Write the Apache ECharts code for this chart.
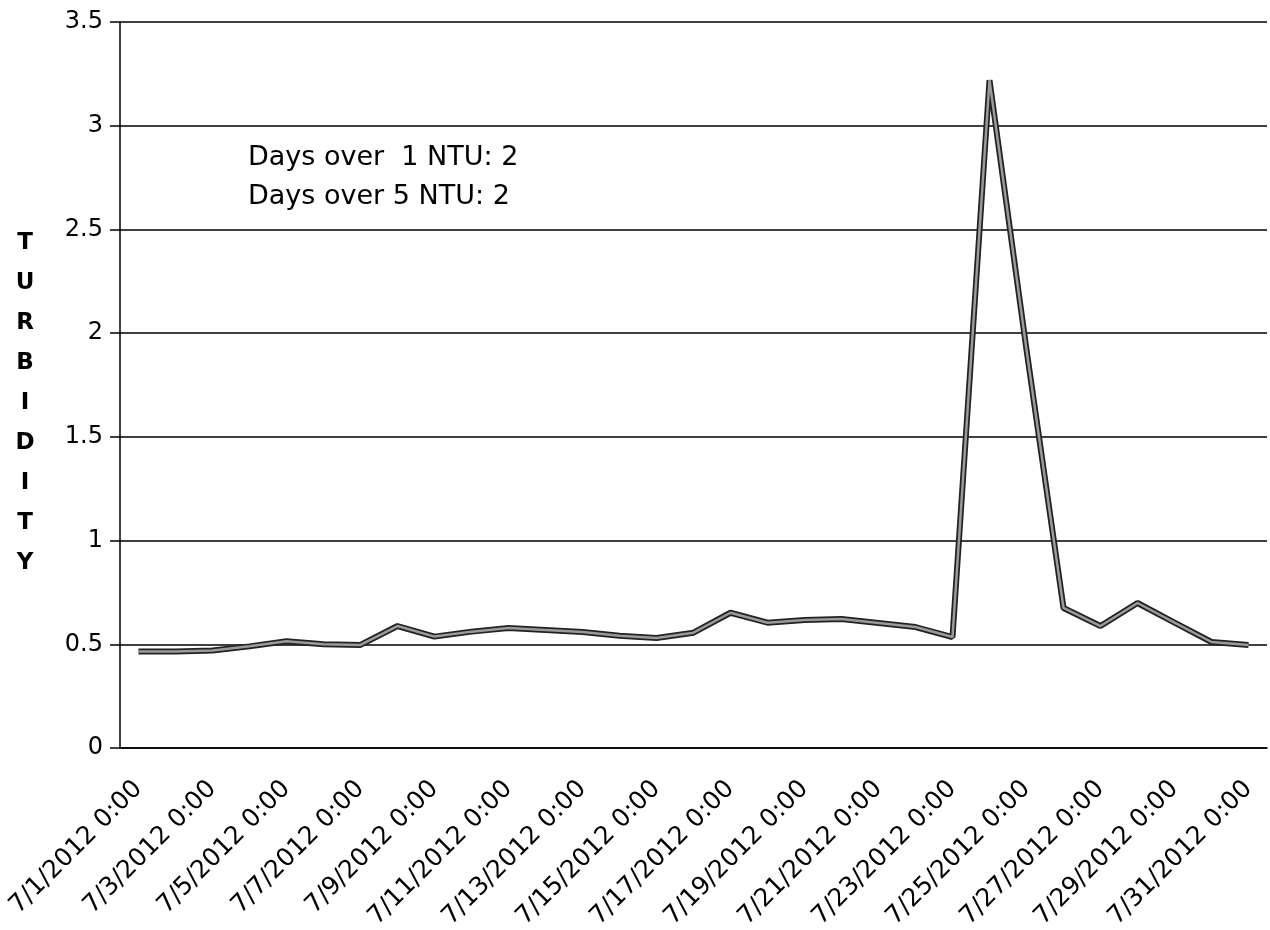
<!DOCTYPE html>
<html>
<head>
<meta charset="utf-8">
<script src="https://cdn.jsdelivr.net/npm/echarts/dist/echarts.min.js"></script>
<style>
html, body { margin: 0; background: #fff; }
#chart { width: 1270px; height: 930px; }
</style>
</head>
<body>
<div id="chart"></div>
<script>
var myChart = echarts.init(document.getElementById('chart'));

// one reading per day, July 2012
var dates = [
    '7/1/2012 0:00', '7/2/2012 0:00', '7/3/2012 0:00', '7/4/2012 0:00', '7/5/2012 0:00',
    '7/6/2012 0:00', '7/7/2012 0:00', '7/8/2012 0:00', '7/9/2012 0:00', '7/10/2012 0:00',
    '7/11/2012 0:00', '7/12/2012 0:00', '7/13/2012 0:00', '7/14/2012 0:00', '7/15/2012 0:00',
    '7/16/2012 0:00', '7/17/2012 0:00', '7/18/2012 0:00', '7/19/2012 0:00', '7/20/2012 0:00',
    '7/21/2012 0:00', '7/22/2012 0:00', '7/23/2012 0:00', '7/24/2012 0:00', '7/25/2012 0:00',
    '7/26/2012 0:00', '7/27/2012 0:00', '7/28/2012 0:00', '7/29/2012 0:00', '7/30/2012 0:00',
    '7/31/2012 0:00'
];

var turbidity = [
    0.465, 0.465, 0.47, 0.49, 0.515, 0.50, 0.497, 0.588, 0.537, 0.561,
    0.578, 0.569, 0.559, 0.541, 0.53, 0.556, 0.652, 0.604, 0.617, 0.622,
    0.603, 0.583, 0.535, 3.22, 1.92, 0.675, 0.588, 0.699, 0.604, 0.511,
    0.497
];

var notes = ['Days over  1 NTU: 2', 'Days over 5 NTU: 2'];
var yTitle = 'TURBIDITY';

var font = 'DejaVu Sans';

option = {
    backgroundColor: '#fff',
    animation: false,
    grid: {
        left: 120,
        right: 3,
        top: 22,
        bottom: 182,
        containLabel: false,
        outerBoundsMode: 'none'
    },
    xAxis: {
        type: 'category',
        data: dates,
        boundaryGap: true,
        axisLine: { lineStyle: { color: '#000', width: 1.5 } },
        axisTick: { interval: 1, length: 8, lineStyle: { color: '#000', width: 1.5 } },
        axisLabel: {
            interval: 1,
            rotate: 45,
            margin: 37,
            color: '#000',
            fontSize: 25,
            fontFamily: font
        },
        splitLine: { show: false }
    },
    yAxis: {
        type: 'value',
        min: 0,
        max: 3.5,
        interval: 0.5,
        axisLine: { show: true, lineStyle: { color: '#000', width: 1.5 } },
        axisTick: { show: true, length: 10, lineStyle: { color: '#000', width: 1.5 } },
        axisLabel: {
            margin: 17,
            color: '#000',
            fontSize: 24,
            fontFamily: font
        },
        splitLine: { lineStyle: { color: '#000', width: 1.5 } }
    },
    series: [
        {
            // dark outline of the scanned line
            type: 'line',
            data: turbidity,
            symbol: 'none',
            lineStyle: { color: '#222', width: 6 },
            z: 3
        },
        {
            type: 'line',
            data: turbidity,
            symbol: 'none',
            lineStyle: { color: '#9a9a9a', width: 2.5 },
            z: 4
        }
    ],
    graphic: [
        {
            type: 'text',
            x: 248,
            y: 138,
            style: {
                text: notes.join('\n'),
                fontSize: 27,
                fontFamily: font,
                lineHeight: 39,
                fill: '#000'
            }
        },
        {
            type: 'text',
            x: 25,
            y: 223,
            style: {
                text: yTitle.split('').join('\n'),
                fontSize: 23,
                fontWeight: 'bold',
                fontFamily: font,
                lineHeight: 40,
                textAlign: 'center',
                fill: '#000'
            }
        }
    ]
};
myChart.setOption(option);
</script>
</body>
</html>
